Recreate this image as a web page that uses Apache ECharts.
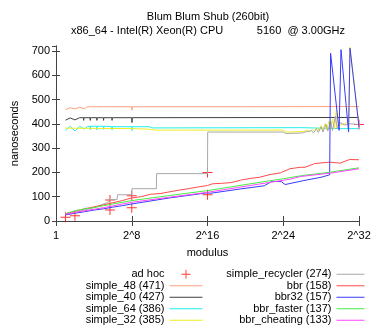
<!DOCTYPE html>
<html>
<head>
<meta charset="utf-8">
<script src="https://cdn.jsdelivr.net/npm/echarts@6/dist/echarts.min.js"></script>
<style>
  html, body { margin: 0; padding: 0; background: #fff; }
  #chart { width: 374px; height: 330px; }
</style>
</head>
<body>
<div id="chart"></div>
<script>
// x = log2(modulus), y = nanoseconds
let tickLabels = ['1', '2^8', '2^16', '2^24', '2^32'];
let names = ['ad hoc', 'simple_48 (471)', 'simple_40 (427)', 'simple_64 (386)', 'simple_32 (385)',
    'simple_recycler (274)', 'bbr (158)', 'bbr32 (157)', 'bbr_faster (137)', 'bbr_cheating (133)'];
let colors = ['#ff0000', '#ff9f80', '#404040', '#22eeee', '#eeee22',
    '#a8a8a8', '#ff4a4a', '#3a3aff', '#44ee44', '#ff44ff'];

let adHoc = [[1, 15], [2, 22], [5.7, 86], [5.7, 45], [8, 104], [8, 55], [16, 200], [16, 108], [32, 397]];

let simple48 = [[1, 458], [1.5, 466], [2, 461], [2.5, 468], [3, 462], [3.3, 470], [3.6, 470], [3.62, 463], [3.65, 470],
    [4.3, 470], [4.32, 463], [4.35, 470], [5, 470], [5.02, 463], [5.05, 470], [5.9, 470], [5.92, 463], [5.95, 470],
    [8, 470], [8.02, 456], [8.05, 470], [20, 470], [32, 471]];
let simple40 = [[1, 415], [1.5, 424], [2, 416], [2.5, 425], [2.9, 425], [2.92, 414], [2.95, 425], [3.6, 425], [3.62, 414], [3.65, 425],
    [4.3, 425], [4.32, 414], [4.35, 425], [5, 425], [5.02, 414], [5.05, 425], [5.9, 425], [5.92, 414], [5.95, 425],
    [8, 425], [8.02, 405], [8.05, 425], [32, 426]];
let simple64 = [[1, 372], [1.5, 390], [2, 370], [2.5, 390], [3, 378], [3.3, 388], [3.6, 390], [3.62, 375], [3.65, 390],
    [4.3, 390], [4.32, 375], [4.35, 390], [5, 390], [5.02, 377], [5.05, 390], [5.9, 388], [5.92, 375], [5.95, 388],
    [8, 388], [8.02, 372], [8.05, 388], [9.8, 388], [10.2, 383], [26, 384], [30, 380], [32, 380]];
let simple32 = [[1, 382], [8, 380], [9.8, 378], [10.5, 374], [24, 374], [24.3, 366], [26, 368], [26.5, 372], [26.8, 366],
    [27.1, 378], [27.3, 368], [27.6, 385], [27.8, 370], [28, 392], [28.2, 372], [28.4, 400], [28.6, 375], [28.8, 410],
    [29, 378], [29.2, 420], [29.4, 380], [29.6, 456], [29.7, 385], [30, 395], [30.5, 400], [30.9, 410], [31.05, 715], [32, 390]];
let recycler = [[1, 25], [2, 35], [3, 45], [4, 55], [4.5, 62], [5, 70], [5.5, 76], [5.55, 88], [6.45, 88], [6.5, 108],
    [8, 108], [8.02, 133], [10.6, 133], [10.62, 195], [16, 195], [16.02, 366], [24, 366], [24.3, 360], [26, 362],
    [26.5, 368], [26.7, 362], [27, 372], [27.2, 362], [27.5, 380], [27.7, 364], [28, 388], [28.2, 366], [28.5, 398],
    [28.7, 370], [29, 410], [29.2, 372], [29.5, 430], [29.7, 380], [30, 405], [30.5, 395], [31, 400], [32, 397]];
let bbr = [[1, 30], [2, 40], [3, 50], [4, 58], [5, 66], [6, 75], [7, 84], [8, 95], [9, 100], [10, 110], [11, 113],
    [12, 120], [13, 127], [14, 133], [15, 140], [16, 146], [16.5, 153], [17.5, 155], [18.5, 158], [19.5, 168],
    [20.5, 175], [21.5, 180], [22.6, 191], [23.7, 198], [24.7, 215], [25.8, 221], [26.3, 221], [27.3, 236],
    [28.3, 240], [28.9, 242], [30, 238], [31, 253], [32, 252]];
let bbr32 = [[1, 25], [2, 32], [3, 38], [4, 45], [5, 50], [6, 57], [7, 63], [8, 70], [12, 95], [16, 116], [16.3, 114],
    [19.5, 132], [22, 145], [22.8, 163], [23.8, 162], [24.2, 150], [26, 165], [28, 180], [28.9, 190],
    [29, 690], [29.9, 373], [30.1, 705], [30.9, 366], [31.05, 711], [32, 387]];
let bbrFaster = [[1, 30], [2, 42], [3, 50], [4, 55], [5, 63], [6, 70], [7, 77], [8, 84], [12, 105], [16, 125],
    [20.5, 153], [24, 174], [26, 187], [29, 201], [32, 219]];
let bbrCheating = [[1, 28], [2, 35], [3, 42], [4, 48], [5, 55], [6, 62], [7, 70], [8, 77], [12, 98], [16, 118],
    [20.5, 146], [24.7, 172], [25.8, 183], [29, 197], [32, 215]];

let lineData = [simple48, simple40, simple64, simple32, recycler, bbr, bbr32, bbrFaster, bbrCheating];

let chart = echarts.init(document.getElementById('chart'));
let font = 'Liberation Sans';
let axisColor = '#444';

let series = [{
    name: names[0],
    type: 'scatter',
    data: adHoc,
    symbol: 'path://M0,4.5h10v1h-10zM4.5,0h1v10h-1z',
    symbolSize: 10,
    itemStyle: { color: colors[0] }
}];
lineData.forEach((d, i) => {
    series.push({
        name: names[i + 1],
        type: 'line',
        data: d,
        symbol: 'none',
        color: colors[i + 1],
        lineStyle: { width: 1, color: colors[i + 1] }
    });
});

// legend items: plus for the points, plain line for the rest
let legendItems = names.map((n, i) => i === 0
    ? { name: n }
    : { name: n, icon: 'line', itemStyle: { color: colors[i], borderColor: colors[i], borderWidth: 1 } });

let legendBase = {
    orient: 'vertical',
    align: 'right',
    top: 268.5,
    padding: 0,
    itemGap: 0,
    itemHeight: 9,
    textStyle: { fontFamily: font, fontSize: 11, color: '#000', lineHeight: 11.5 }
};

chart.setOption({
    animation: false,
    textStyle: { fontFamily: font },
    title: [
        { text: 'Blum Blum Shub (260bit)', left: 208, top: 11, textAlign: 'center', padding: 0,
          textStyle: { fontFamily: font, fontSize: 11, fontWeight: 'normal', color: '#000' } },
        { text: 'x86_64 - Intel(R) Xeon(R) CPU           5160  @ 3.00GHz', left: 208, top: 25, textAlign: 'center', padding: 0,
          textStyle: { fontFamily: font, fontSize: 11, fontWeight: 'normal', color: '#000' } }
    ],
    legend: [
        Object.assign({}, legendBase, { right: 171, itemWidth: 33, data: legendItems.slice(0, 5) }),
        Object.assign({}, legendBase, { right: 9, itemWidth: 28, data: legendItems.slice(5) })
    ],
    grid: { left: 56, right: 15, top: 46, bottom: 109 },
    xAxis: [{
        type: 'value', min: 0, max: 32, interval: 8,
        name: 'modulus', nameLocation: 'middle', nameGap: 26,
        nameTextStyle: { fontFamily: font, fontSize: 11, color: '#000' },
        axisLine: { lineStyle: { color: axisColor } },
        axisTick: { inside: true, length: 5 },
        splitLine: { show: false },
        axisLabel: { fontFamily: font, fontSize: 11, color: '#000', margin: 9,
            formatter: v => tickLabels[v / 8] }
    }, {
        type: 'value', min: 0, max: 32, interval: 8, position: 'top',
        axisLine: { lineStyle: { color: axisColor } },
        axisTick: { inside: true, length: 5 },
        splitLine: { show: false },
        axisLabel: { show: false }
    }],
    yAxis: [{
        type: 'value', min: 0, max: 720, interval: 100,
        name: 'nanoseconds', nameLocation: 'middle', nameGap: 34,
        nameTextStyle: { fontFamily: font, fontSize: 11, color: '#000' },
        axisLine: { show: true, lineStyle: { color: axisColor } },
        axisTick: { show: true, inside: true, length: 4 },
        splitLine: { show: false },
        axisLabel: { fontFamily: font, fontSize: 11, color: '#000', margin: 6, showMaxLabel: false }
    }, {
        type: 'value', min: 0, max: 720, interval: 100, position: 'right',
        axisLine: { show: true, lineStyle: { color: axisColor } },
        axisTick: { show: true, inside: true, length: 4 },
        splitLine: { show: false },
        axisLabel: { show: false }
    }],
    series: series
});
</script>
</body>
</html>
